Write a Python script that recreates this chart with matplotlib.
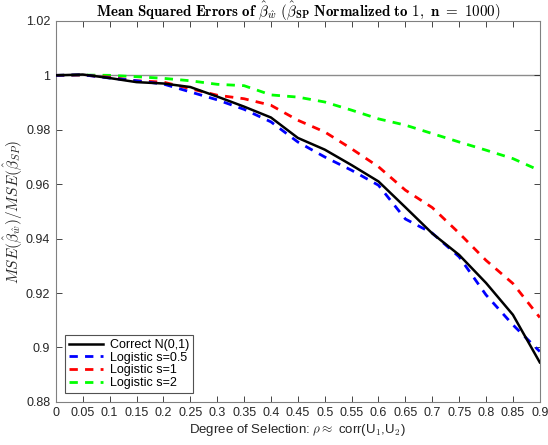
import matplotlib
matplotlib.use("Agg")
import matplotlib.pyplot as plt
import numpy as np

plt.rcParams['font.family'] = ['Liberation Sans', 'DejaVu Sans']
plt.rcParams['mathtext.fontset'] = 'cm'

rho = [0, 0.05, 0.1, 0.15, 0.2, 0.25, 0.3, 0.35, 0.4, 0.45, 0.5, 0.55, 0.6, 0.65, 0.7, 0.75, 0.8, 0.85, 0.9]
correct = [1.0, 1.0003, 0.999, 0.9975, 0.997, 0.9957, 0.9922, 0.9885, 0.9845, 0.977, 0.9727, 0.967, 0.961, 0.9515, 0.9419, 0.934, 0.9237, 0.912, 0.8945]
logit05 = [1.0, 1.0002, 0.999, 0.998, 0.9968, 0.9939, 0.991, 0.9875, 0.9829, 0.9755, 0.970, 0.9651, 0.9596, 0.9472, 0.942, 0.9333, 0.9193, 0.9083, 0.8985]
logit1 = [1.0, 1.0001, 0.9993, 0.998, 0.9975, 0.9951, 0.9927, 0.9914, 0.989, 0.9835, 0.9792, 0.973, 0.9664, 0.9578, 0.9514, 0.942, 0.932, 0.9235, 0.911]
logit2 = [1.0, 1.0001, 1.0, 0.9995, 0.9989, 0.998, 0.9967, 0.9962, 0.9928, 0.992, 0.9902, 0.9872, 0.984, 0.9817, 0.9786, 0.9755, 0.9725, 0.9694, 0.965]

series_labels = ['Correct N(0,1)', 'Logistic s=0.5', 'Logistic s=1', 'Logistic s=2']
xticks = [0, 0.05, 0.1, 0.15, 0.2, 0.25, 0.3, 0.35, 0.4, 0.45, 0.5, 0.55, 0.6, 0.65, 0.7, 0.75, 0.8, 0.85, 0.9]
xticklabels = ['0', '0.05', '0.1', '0.15', '0.2', '0.25', '0.3', '0.35', '0.4', '0.45', '0.5', '0.55', '0.6', '0.65', '0.7', '0.75', '0.8', '0.85', '0.9']
yticks = [0.88, 0.9, 0.92, 0.94, 0.96, 0.98, 1.0, 1.02]
yticklabels = ['0.88', '0.9', '0.92', '0.94', '0.96', '0.98', '1', '1.02']

fig = plt.figure(figsize=(5.48, 4.45), dpi=100)
ax = fig.add_axes([0.102, 0.097, 0.883, 0.856])

axcol = '#262626'
ax.axhline(1.0, color='#8c8c8c', lw=1.0, zorder=1)
ax.plot(rho, correct, color='black', lw=1.8, label=series_labels[0], zorder=5)
ax.plot(rho, logit05, color='#0000ff', lw=2.0, ls=(0, (3, 2.6)), label=series_labels[1], zorder=4)
ax.plot(rho, logit1, color='#ff0000', lw=2.0, ls=(0, (3, 2.6)), label=series_labels[2], zorder=3)
ax.plot(rho, logit2, color='#00ff00', lw=2.0, ls=(0, (3, 2.6)), label=series_labels[3], zorder=2)

ax.set_xlim(0, 0.9)
ax.set_ylim(0.88, 1.02)
ax.set_xticks(xticks)
ax.set_xticklabels(xticklabels)
ax.set_yticks(yticks)
ax.set_yticklabels(yticklabels)
ax.tick_params(direction='in', top=True, right=True, length=4, width=0.6,
               labelsize=9, colors=axcol, pad=4)
for s in ax.spines.values():
    s.set_color('#808080')
    s.set_linewidth(0.8)

ax.set_title(r'$\mathbf{Mean\ Squared\ Errors\ of\ }\hat{\beta}_{\hat{w}}\ \mathbf{(}\hat{\beta}_{\mathbf{SP}}\mathbf{\ Normalized\ to\ 1,\ n\ =\ 1000)}$',
             fontsize=10.8, color='black', pad=3)
ax.set_xlabel(r'Degree of Selection: $\rho \approx$ corr(U$_1$,U$_2$)', fontsize=9.5, color=axcol, labelpad=2)
ax.set_ylabel(r'$MSE(\hat{\beta}_{\hat{w}})/MSE(\hat{\beta}_{SP})$', fontsize=11, color=axcol, labelpad=1)

leg = ax.legend(loc='lower left', bbox_to_anchor=(0.019, 0.024), fontsize=9, frameon=True,
                fancybox=False, edgecolor='#262626', handlelength=2.7, borderpad=0.3,
                labelspacing=0.05, handletextpad=0.6, borderaxespad=0.0)
leg.get_frame().set_linewidth(0.8)

fig.savefig('out.png', dpi=100)
